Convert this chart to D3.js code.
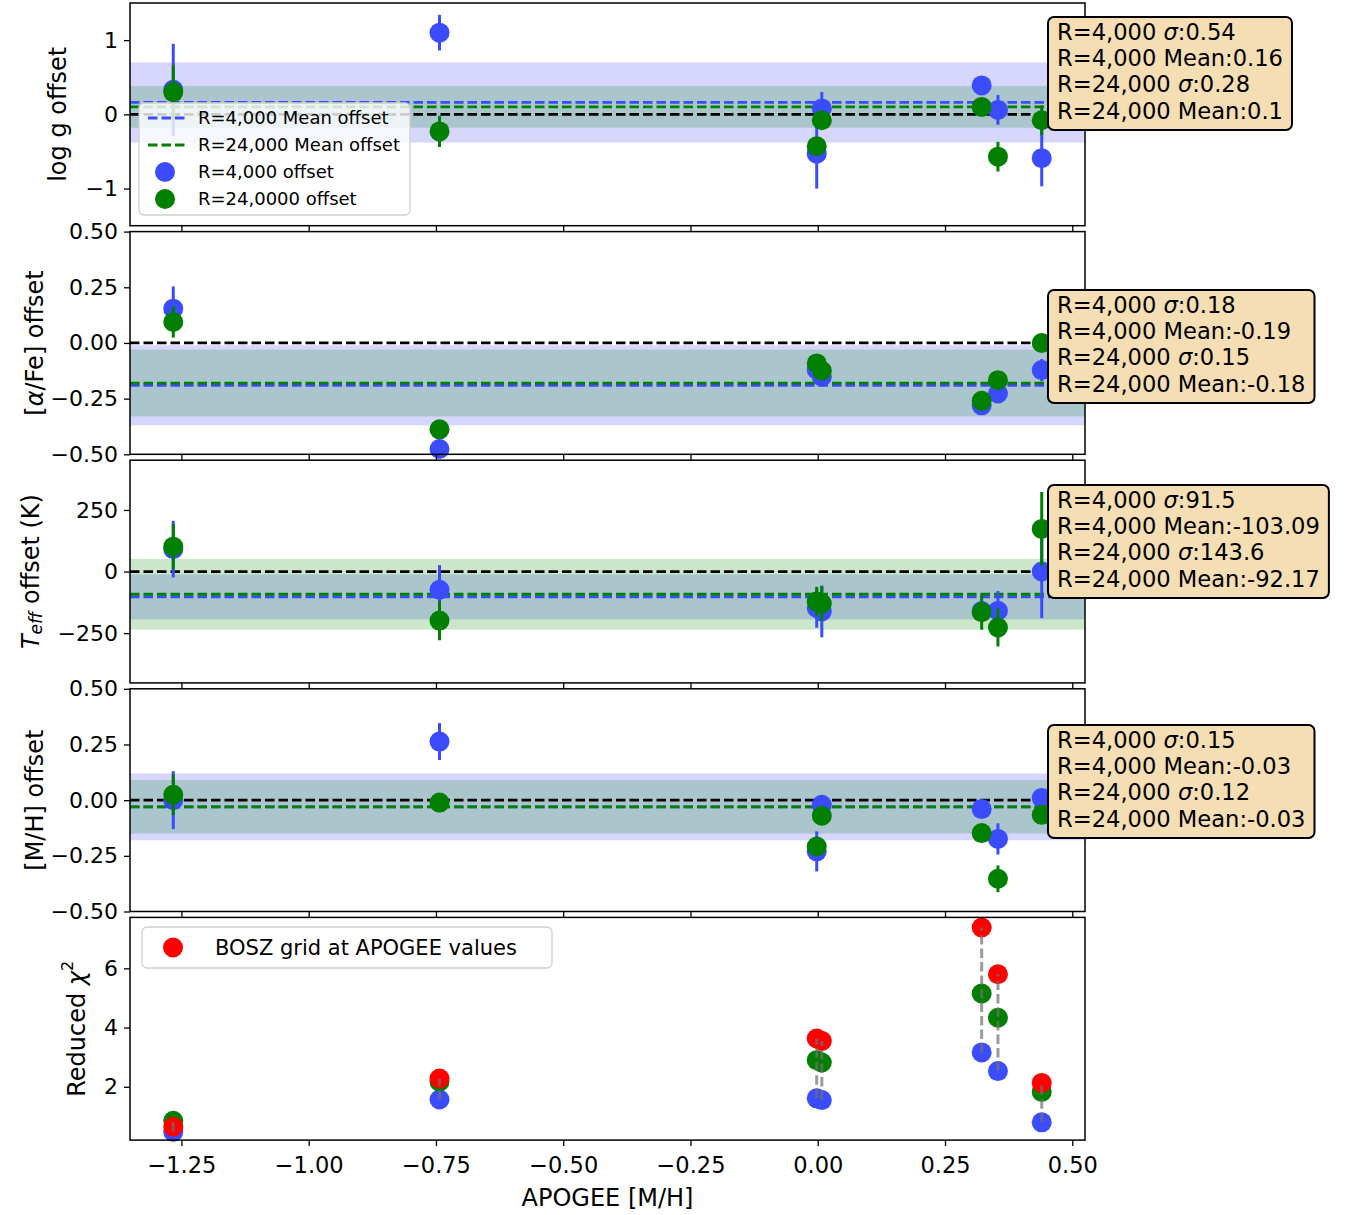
<!DOCTYPE html>
<html>
<head>
<meta charset="utf-8">
<script src="https://cdn.jsdelivr.net/npm/d3@7/dist/d3.min.js"></script>
<style>
  body { margin: 0; background: #fff; }
  text { font-family: "DejaVu Sans", sans-serif; fill: #000; }
</style>
</head>
<body>
<svg id="chart" width="1346" height="1215"></svg>
<script>
// ---- data ----
const apogeeMH = [-1.266, -0.743, -0.002, 0.008, 0.322, 0.354, 0.44];

const logg4k = [0.33, 1.10, -0.53, 0.08, 0.39, 0.06, -0.59];
const logg4kErr = [0.62, 0.24, 0.47, 0.22, 0.05, 0.2, 0.38];
const logg24k = [0.30, -0.23, -0.43, -0.08, 0.10, -0.57, -0.08];
const logg24kErr = [0.36, 0.21, 0.1, 0.12, 0.05, 0.2, 0.2];

const alpha4k = [0.154, -0.476, -0.12, -0.152, -0.28, -0.227, -0.122];
const alpha4kErr = [0.1, 0.03, 0.03, 0.03, 0.03, 0.03, 0.05];
const alpha24k = [0.094, -0.388, -0.092, -0.125, -0.26, -0.167, 0.0];
const alpha24kErr = [0.07, 0.02, 0.02, 0.02, 0.02, 0.02, 0.02];

const teff4k = [91, -74, -148, -162, -160, -159, 0];
const teff4kErr = [115, 100, 80, 105, 40, 80, 189];
const teff24k = [101, -199, -122, -130, -165, -227, 173];
const teff24kErr = [91, 80, 60, 70, 71, 77, 150];

const mh4k = [0.0, 0.263, -0.23, -0.021, -0.04, -0.174, 0.01];
const mh4kErr = [0.13, 0.083, 0.09, 0.04, 0.03, 0.07, 0.04];
const mh24k = [0.024, -0.011, -0.208, -0.07, -0.148, -0.353, -0.066];
const mh24kErr = [0.09, 0.02, 0.03, 0.03, 0.03, 0.06, 0.04];

const chi4k = [0.48, 1.57, 1.61, 1.55, 3.16, 2.53, 0.80];
const chi24k = [0.85, 2.17, 2.90, 2.82, 5.15, 4.33, 1.83];
const chiBosz = [0.65, 2.28, 3.63, 3.55, 7.38, 5.80, 2.13];

// summary stats from the boxes (log g, alpha, teff, m/h)
const sigma4k = [0.54, 0.18, 91.5, 0.15];
const mean4k = [0.16, -0.19, -103.09, -0.03];
const sigma24k = [0.28, 0.15, 143.6, 0.12];
const mean24k = [0.1, -0.18, -92.17, -0.03];

const xTicks = [-1.25, -1.0, -0.75, -0.5, -0.25, 0, 0.25, 0.5];

// ---- layout ----
const BLUE = '#3b4cff', GREEN = '#007f00', RED = '#ff0000';
const left = 130, right = 1085;
const panelH = 222.7, panelStep = 228.6, firstTop = 3;
const svg = d3.select('#chart');

const x = d3.scaleLinear().domain([-1.351, 0.525]).range([left, right]);

const panels = [
  { domain: [-1.5, 1.5], ticks: [-1, 0, 1], fmt: d3.format('d'), labelX: 58,
    a: logg4k, aErr: logg4kErr, b: logg24k, bErr: logg24kErr, boxTop: 17 },
  { domain: [-0.5, 0.5], ticks: [-0.5, -0.25, 0, 0.25, 0.5], fmt: d3.format('.2f'), labelX: 35,
    a: alpha4k, aErr: alpha4kErr, b: alpha24k, bErr: alpha24kErr, boxTop: 290 },
  { domain: [-452, 452], ticks: [-250, 0, 250], fmt: d3.format('d'), labelX: 31,
    a: teff4k, aErr: teff4kErr, b: teff24k, bErr: teff24kErr, boxTop: 485 },
  { domain: [-0.5, 0.5], ticks: [-0.5, -0.25, 0, 0.25, 0.5], fmt: d3.format('.2f'), labelX: 35,
    a: mh4k, aErr: mh4kErr, b: mh24k, bErr: mh24kErr, boxTop: 725 }
];

function styleAxis(g, fontSize) {
  g.select('.domain').remove();
  g.selectAll('.tick line').attr('stroke', '#000').attr('stroke-width', 1.3);
  g.selectAll('.tick text').attr('font-size', fontSize).attr('font-family', 'DejaVu Sans');
}

function frame(top) {
  svg.append('rect')
    .attr('x', left).attr('y', top)
    .attr('width', right - left).attr('height', panelH)
    .attr('fill', 'none').attr('stroke', '#000').attr('stroke-width', 1.5);
}

function drawErrSeries(g, y, vals, errs, color) {
  g.append('g').selectAll('line').data(vals).join('line')
    .attr('x1', (d, i) => x(apogeeMH[i])).attr('x2', (d, i) => x(apogeeMH[i]))
    .attr('y1', (d, i) => y(d - errs[i])).attr('y2', (d, i) => y(d + errs[i]))
    .attr('stroke', color).attr('stroke-width', 3);
  g.append('g').selectAll('circle').data(vals).join('circle')
    .attr('cx', (d, i) => x(apogeeMH[i])).attr('cy', d => y(d))
    .attr('r', 10).attr('fill', color);
}

const yLabels = [
  sel => sel.text('log g offset'),
  sel => { sel.append('tspan').text('['); sel.append('tspan').attr('font-style', 'italic').text('α'); sel.append('tspan').text('/Fe] offset'); },
  sel => {
    sel.append('tspan').attr('font-style', 'italic').text('T');
    sel.append('tspan').attr('font-style', 'italic').attr('font-size', 17).attr('dy', 5).text('eff');
    sel.append('tspan').attr('dy', -5).text(' offset (K)');
  },
  sel => sel.text('[M/H] offset')
];

panels.forEach((p, k) => {
  const top = firstTop + k * panelStep;
  const y = d3.scaleLinear().domain(p.domain).range([top + panelH, top]);
  const g = svg.append('g');

  // sigma bands
  g.append('rect').attr('x', left).attr('width', right - left)
    .attr('y', y(mean4k[k] + sigma4k[k])).attr('height', y(mean4k[k] - sigma4k[k]) - y(mean4k[k] + sigma4k[k]))
    .attr('fill', 'blue').attr('fill-opacity', 0.16);
  g.append('rect').attr('x', left).attr('width', right - left)
    .attr('y', y(mean24k[k] + sigma24k[k])).attr('height', y(mean24k[k] - sigma24k[k]) - y(mean24k[k] + sigma24k[k]))
    .attr('fill', 'green').attr('fill-opacity', 0.2);

  // zero + mean lines
  [[0, '#000'], [mean4k[k], BLUE], [mean24k[k], GREEN]].forEach(([v, c]) => {
    g.append('line').attr('x1', left).attr('x2', right)
      .attr('y1', y(v)).attr('y2', y(v))
      .attr('stroke', c).attr('stroke-width', 2.8).attr('stroke-dasharray', '9.5,4');
  });

  drawErrSeries(g, y, p.a, p.aErr, BLUE);
  drawErrSeries(g, y, p.b, p.bErr, GREEN);

  frame(top);

  const yAxis = svg.append('g').attr('transform', `translate(${left},0)`)
    .call(d3.axisLeft(y).tickValues(p.ticks).tickFormat(p.fmt).tickSize(6).tickPadding(6));
  styleAxis(yAxis, 22);

  const xAxis = svg.append('g').attr('transform', `translate(0,${top + panelH})`)
    .call(d3.axisBottom(x).tickValues(xTicks).tickFormat('').tickSize(6));
  styleAxis(xAxis, 22);

  const lab = svg.append('text')
    .attr('transform', `translate(${p.labelX},${top + panelH / 2}) rotate(-90)`)
    .attr('text-anchor', 'middle').attr('dominant-baseline', 'central')
    .attr('font-size', 24);
  yLabels[k](lab);
});

// legend on first panel
const leg = svg.append('g');
leg.append('rect').attr('x', 139).attr('y', 103).attr('width', 271).attr('height', 112)
  .attr('rx', 5).attr('fill', '#fff').attr('fill-opacity', 0.8)
  .attr('stroke', '#d0d0d0').attr('stroke-width', 1.3);
const legItems = [
  { type: 'line', color: BLUE, label: 'R=4,000 Mean offset' },
  { type: 'line', color: GREEN, label: 'R=24,000 Mean offset' },
  { type: 'dot', color: BLUE, label: 'R=4,000 offset' },
  { type: 'dot', color: GREEN, label: 'R=24,0000 offset' }
];
legItems.forEach((it, i) => {
  const cy = 118 + i * 27;
  if (it.type === 'line') {
    leg.append('line').attr('x1', 148).attr('x2', 188).attr('y1', cy).attr('y2', cy)
      .attr('stroke', it.color).attr('stroke-width', 2.8).attr('stroke-dasharray', '9.5,4');
  } else {
    leg.append('circle').attr('cx', 165).attr('cy', cy).attr('r', 10).attr('fill', it.color);
  }
  leg.append('text').attr('x', 198).attr('y', cy).attr('dy', '0.35em')
    .attr('font-size', 18).text(it.label);
});

// stats boxes
panels.forEach((p, k) => {
  const g = svg.append('g');
  const rows = [
    ['R=4,000 ', 'σ', ':' + sigma4k[k]],
    ['R=4,000 Mean:' + mean4k[k]],
    ['R=24,000 ', 'σ', ':' + sigma24k[k]],
    ['R=24,000 Mean:' + mean24k[k]]
  ];
  const bg = g.append('rect');
  let maxW = 0;
  rows.forEach((r, i) => {
    const t = g.append('text').attr('x', 1057).attr('y', p.boxTop + 22.5 + i * 26.4)
      .attr('font-size', 22.6);
    r.forEach(s => {
      t.append('tspan').attr('font-style', s === 'σ' ? 'italic' : null).text(s);
    });
    maxW = Math.max(maxW, t.node().getComputedTextLength());
  });
  bg.attr('x', 1048).attr('y', p.boxTop).attr('width', maxW + 18).attr('height', 113)
    .attr('rx', 6).attr('fill', '#f5deb3').attr('stroke', '#000').attr('stroke-width', 2);
});

// ---- chi2 panel ----
{
  const top = firstTop + 4 * panelStep;
  const y = d3.scaleLinear().domain([0.2, 7.72]).range([top + panelH, top]);
  const g = svg.append('g');
  [[chi4k, BLUE], [chi24k, GREEN], [chiBosz, RED]].forEach(([vals, c]) => {
    g.append('g').selectAll('circle').data(vals).join('circle')
      .attr('cx', (d, i) => x(apogeeMH[i])).attr('cy', d => y(d))
      .attr('r', 10).attr('fill', c);
  });
  g.append('g').selectAll('line').data(apogeeMH).join('line')
    .attr('x1', d => x(d)).attr('x2', d => x(d))
    .attr('y1', (d, i) => y(Math.min(chi4k[i], chi24k[i], chiBosz[i])))
    .attr('y2', (d, i) => y(Math.max(chi4k[i], chi24k[i], chiBosz[i])))
    .attr('stroke', '#707070').attr('stroke-opacity', 0.7)
    .attr('stroke-width', 3).attr('stroke-dasharray', '9.5,4');

  frame(top);

  const yAxis = svg.append('g').attr('transform', `translate(${left},0)`)
    .call(d3.axisLeft(y).tickValues([2, 4, 6]).tickFormat(d3.format('d')).tickSize(6).tickPadding(6));
  styleAxis(yAxis, 22);

  const xAxis = svg.append('g').attr('transform', `translate(0,${top + panelH})`)
    .call(d3.axisBottom(x).tickValues(xTicks).tickFormat(d3.format('.2f')).tickSize(6).tickPadding(11));
  styleAxis(xAxis, 22.5);

  const lab = svg.append('text')
    .attr('transform', `translate(77,${top + panelH / 2}) rotate(-90)`)
    .attr('text-anchor', 'middle').attr('dominant-baseline', 'central')
    .attr('font-size', 24);
  lab.append('tspan').text('Reduced ');
  lab.append('tspan').attr('font-style', 'italic').text('χ');
  lab.append('tspan').attr('font-size', 16).attr('dy', -10).text('2');

  svg.append('text').attr('x', (left + right) / 2).attr('y', 1206)
    .attr('text-anchor', 'middle').attr('font-size', 24).text('APOGEE [M/H]');

  // legend
  const lg = svg.append('g');
  lg.append('rect').attr('x', 142).attr('y', 927).attr('width', 410).attr('height', 41)
    .attr('rx', 5).attr('fill', '#fff').attr('fill-opacity', 0.8)
    .attr('stroke', '#d0d0d0').attr('stroke-width', 1.3);
  lg.append('circle').attr('cx', 173).attr('cy', 947.5).attr('r', 10).attr('fill', RED);
  lg.append('text').attr('x', 215).attr('y', 947.5).attr('dy', '0.35em')
    .attr('font-size', 21).text('BOSZ grid at APOGEE values');
}
</script>
</body>
</html>
